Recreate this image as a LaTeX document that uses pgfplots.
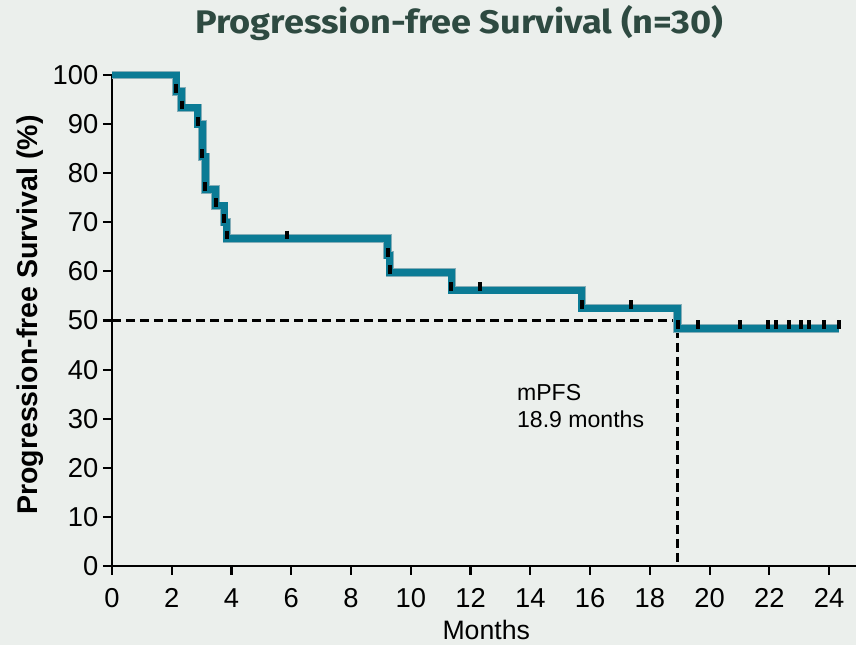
\documentclass[border=0pt]{standalone}
\usepackage{pgfplots}
\pgfplotsset{compat=1.18}
\usepackage{fontspec}
\setmainfont{Liberation Sans}
\newfontfamily\titlefont{Fira Sans}
\usetikzlibrary{backgrounds}
\definecolor{bg}{HTML}{EBEFEC}
\definecolor{kmteal}{HTML}{0B7B95}
\definecolor{kmedge}{HTML}{86AEB8}
\definecolor{titlecol}{HTML}{2E4A41}
\begin{document}
\begin{tikzpicture}
\begin{axis}[
  scale only axis, width=558pt, height=368.25pt,
  xmin=0, xmax=24.9, ymin=0, ymax=100,
  axis lines=left, axis line style={-, line width=2.2pt},
  xtick={0,2,...,24}, ytick={0,10,...,100},
  major tick style={black, line width=1.6pt}, major tick length=6.75pt,
  tick align=outside,
  ticklabel style={font=\fontsize{20.5}{20.5}\selectfont},
  xticklabel style={yshift=-6.5pt},
  /pgf/number format/assume math mode=true,
  xlabel={Months}, ylabel={Progression-free Survival (\%)},
  xlabel style={font=\fontsize{20}{20}\selectfont, at={(axis description cs:0.503,0)}, anchor=base, yshift=-55.5pt},
  ylabel style={font=\fontsize{21.4}{21.4}\selectfont\bfseries, xshift=4pt},
  clip=false,
]
\addplot[black, line width=2.2pt, dash pattern=on 6.5pt off 4pt] coordinates {(0,50) (18.93,50) (18.93,0)};
\addplot[const plot, kmedge, line width=6.3pt] coordinates {
(0,100) (2.15,96.67) (2.33,93.33) (2.87,90) (3.03,83.33) (3.13,76.67) (3.47,73.33) (3.75,70) (3.84,66.67)
(9.22,63.33) (9.30,59.8) (11.37,56.2) (15.72,52.5) (18.93,48.4) (24.32,48.4)};
\addplot[const plot, kmteal, line width=5.2pt] coordinates {
(0,100) (2.15,96.67) (2.33,93.33) (2.87,90) (3.03,83.33) (3.13,76.67) (3.47,73.33) (3.75,70) (3.84,66.67)
(9.22,63.33) (9.30,59.8) (11.37,56.2) (15.72,52.5) (18.93,48.4) (24.32,48.4)};
\addplot[only marks, mark=|, mark size=3.3pt, mark options={line width=3pt, black}] coordinates {
(2.13,97.3) (2.33,93.9) (2.87,90.6) (3.02,84.0) (3.12,77.3) (3.48,74.0) (3.75,70.7) (3.85,67.4)
(5.85,67.4) (9.25,63.9) (9.3,60.4) (11.35,56.9) (12.32,56.9) (15.72,53.2) (17.37,53.2)
(18.95,49.2) (19.62,49.2) (21.03,49.2) (21.94,49.2) (22.21,49.2) (22.66,49.2) (23.07,49.2) (23.34,49.2) (23.84,49.2) (24.32,49.2)};
\node[anchor=base, xscale=1.107] at (axis cs:11.62,108.4) {\titlefont\bfseries\color{titlecol}\fontsize{24.5}{24.5}\selectfont Progression-free Survival (n=30)};
\node[anchor=base west, inner sep=0pt] at (axis cs:13.55,33.8) {\fontsize{17.3}{17.3}\selectfont mPFS};
\node[anchor=base west, inner sep=0pt] at (axis cs:13.55,28.2) {\fontsize{17.3}{17.3}\selectfont 18.9 months};
\coordinate (O) at (axis cs:0,0);
\end{axis}
\begin{scope}[on background layer]
\fill[bg] ([shift={(-84pt,-59.25pt)}]O) rectangle ([shift={(558pt,424.5pt)}]O);
\end{scope}
\pgfresetboundingbox
\path ([shift={(-84pt,-59.25pt)}]O) rectangle ([shift={(558pt,424.5pt)}]O);
\end{tikzpicture}
\end{document}
